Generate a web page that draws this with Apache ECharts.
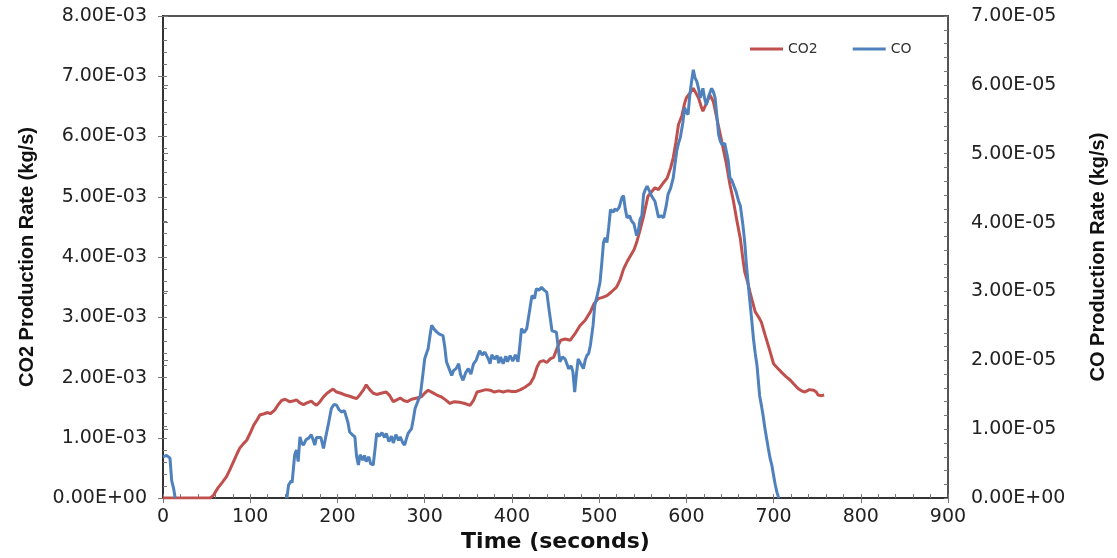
<!DOCTYPE html>
<html><head><meta charset="utf-8">
<script src="https://cdn.jsdelivr.net/npm/echarts@6/dist/echarts.min.js"></script>
<style>html,body{margin:0;padding:0;background:#fff}#c{width:1117px;height:558px}</style>
</head><body><div id="c"></div>
<script>
// Time (s) and CO2 production rate (x 1e-3 kg/s)
const co2Time = [0,20,40,54,58,63,68,73,77,81,85,88,92,96,100,104,108,111,116,120,123,128,132,136,140,145,149,153,157,161,165,170,173,176,180,184,188,192,195,199,204,209,214,218,222,226,230,233,237,241,245,250,256,260,264,268,272,276,280,285,291,296,300,304,309,314,319,324,329,334,340,346,352,356,360,365,370,375,380,385,390,395,400,405,410,415,421,425,429,432,436,440,444,448,453,456,461,467,472,478,484,490,494,499,504,509,514,520,524,528,532,536,540,543,547,551,556,560,564,568,573,578,582,585,588,591,595,598,600,604,608,611,614,617,619,623,627,631,635,639,643,646,650,654,658,662,665,667,670,673,676,679,683,686,690,694,697,700,705,709,714,719,724,728,732,736,741,746,749,751,755,758];
const co2ValuesE3 = [0,0,0,0,0.05,0.17,0.26,0.36,0.48,0.61,0.74,0.83,0.90,0.96,1.08,1.21,1.30,1.38,1.40,1.42,1.40,1.46,1.55,1.62,1.64,1.60,1.61,1.63,1.58,1.55,1.58,1.61,1.57,1.54,1.60,1.68,1.74,1.78,1.81,1.76,1.74,1.71,1.69,1.67,1.65,1.72,1.80,1.88,1.80,1.74,1.72,1.74,1.76,1.70,1.60,1.63,1.66,1.62,1.60,1.64,1.66,1.68,1.74,1.79,1.75,1.71,1.68,1.63,1.57,1.60,1.59,1.57,1.54,1.62,1.76,1.78,1.80,1.79,1.76,1.78,1.76,1.78,1.77,1.77,1.80,1.84,1.90,2.00,2.18,2.26,2.28,2.25,2.31,2.34,2.53,2.62,2.64,2.62,2.72,2.86,2.95,3.09,3.22,3.31,3.33,3.36,3.42,3.50,3.62,3.80,3.92,4.02,4.12,4.24,4.45,4.68,5.01,5.08,5.15,5.12,5.22,5.31,5.48,5.65,5.90,6.20,6.35,6.55,6.64,6.72,6.80,6.72,6.64,6.50,6.42,6.55,6.69,6.58,6.30,6.03,5.75,5.54,5.20,4.93,4.60,4.30,3.95,3.75,3.60,3.42,3.25,3.09,3.00,2.92,2.72,2.53,2.38,2.23,2.15,2.09,2.02,1.96,1.88,1.82,1.78,1.76,1.80,1.79,1.76,1.71,1.70,1.71];
// Time (s) and CO production rate (x 1e-5 kg/s); null = no data
const coTime = [0,4,8,10,12,14,78,142,144,147,148,151,153,155,157,159,161,164,167,170,172,174,176,178,181,184,186,188,190,193,196,199,202,205,208,210,212,214,217,220,222,224,226,229,231,233,236,238,241,243,245,248,251,254,256,259,262,264,267,270,272,275,277,279,281,283,285,287,289,292,295,298,300,302,304,306,308,311,314,317,321,323,325,328,331,333,336,339,341,344,347,350,353,356,359,363,366,369,371,373,375,377,380,383,385,387,390,393,395,398,401,404,407,409,411,414,417,420,423,426,428,431,434,437,440,443,446,448,451,453,455,458,461,463,465,468,470,472,474,476,479,482,484,486,488,490,493,495,498,501,503,505,507,509,511,513,516,518,520,523,526,528,530,532,535,537,540,543,545,547,549,551,553,555,558,560,562,564,566,568,571,574,577,579,582,585,587,589,591,593,596,598,600,602,604,606,608,610,612,614,616,618,619,621,623,626,629,631,633,635,637,639,641,644,646,648,650,652,654,657,660,662,665,667,669,671,673,675,677,679,681,684,686,688,690,692,694,696,698,700,702,704,706];
const coValuesE5 = [0.60,0.62,0.58,0.25,0.15,0,null,0,0.19,0.25,0.22,0.63,0.70,0.53,0.89,0.80,0.77,0.85,0.87,0.92,0.85,0.77,0.88,0.87,0.88,0.72,0.85,0.87,1.10,1.30,1.36,1.35,1.28,1.25,1.27,1.25,1.10,0.96,0.92,0.89,0.60,0.48,0.63,0.55,0.62,0.53,0.60,0.50,0.48,0.70,0.94,0.90,0.95,0.88,0.94,0.82,0.90,0.80,0.92,0.84,0.89,0.80,0.77,0.86,0.94,0.95,1.01,1.15,1.30,1.40,1.49,1.80,2.02,2.10,2.17,2.35,2.51,2.45,2.41,2.38,2.36,2.20,1.98,1.88,1.78,1.85,1.88,1.95,1.80,1.71,1.82,1.88,1.80,1.95,2.00,2.14,2.08,2.12,2.14,2.02,1.95,2.08,2.02,2.07,1.96,2.05,1.95,2.06,1.98,2.07,1.99,2.08,1.98,2.20,2.46,2.40,2.46,2.70,2.94,2.90,3.04,3.02,3.06,3.02,2.99,2.70,2.43,2.45,2.41,2.20,1.98,2.05,2.02,1.95,1.88,1.92,1.83,1.54,1.80,2.02,1.95,1.88,2.00,2.07,2.10,2.22,2.50,2.80,2.95,3.13,3.40,3.71,3.78,3.71,3.93,4.19,4.15,4.20,4.17,4.22,4.36,4.39,4.20,4.07,4.10,4.03,3.98,3.81,3.88,4.05,4.10,4.41,4.48,4.53,4.45,4.39,4.35,4.31,4.20,4.08,4.10,4.07,4.25,4.41,4.50,4.65,4.85,5.04,5.15,5.23,5.45,5.67,5.60,5.57,5.85,6.05,6.22,6.10,6.05,5.95,5.81,5.90,5.95,5.80,5.71,5.85,5.95,5.90,5.81,5.55,5.28,5.18,5.13,5.15,5.13,4.90,4.65,4.62,4.60,4.45,4.31,4.24,3.95,3.71,3.37,3.10,2.84,2.58,2.31,2.10,1.93,1.49,1.35,1.20,1.02,0.87,0.72,0.58,0.48,0.33,0.19,0.08,0];
const seriesNames = ['CO2', 'CO'];

const co2Data = co2Time.map((t, i) => [t, co2ValuesE3[i] * 1e-3]);
const coData = coTime.map((t, i) => [t, coValuesE5[i] === null ? '-' : coValuesE5[i] * 1e-5]);

function sci(v) {
  const s = Number(v).toExponential(2);
  const parts = s.split('e');
  const n = parseInt(parts[1], 10);
  return parts[0] + 'E' + (n < 0 ? '-' : '+') + String(Math.abs(n)).padStart(2, '0');
}

const tickFont = { fontFamily: 'DejaVu Sans', fontSize: 19, color: '#222' };
const axisLineStyle = { color: '#333', width: 2 };
const tickStyle = { color: '#777', width: 1 };

function overlayAxis(extra) {
  return Object.assign({
    axisLine: { show: false },
    axisLabel: { show: false },
    splitLine: { show: false },
    axisTick: { show: true, inside: true, length: 4, lineStyle: tickStyle },
    minorTick: { show: true, splitNumber: 5, length: 4, lineStyle: tickStyle }
  }, extra);
}

const chart = echarts.init(document.getElementById('c'));
chart.setOption({
  animation: false,
  backgroundColor: '#fff',
  grid: { left: 163, right: 169, top: 16, bottom: 58, show: true, borderColor: '#555', borderWidth: 2, backgroundColor: 'transparent' },
  legend: {
    data: seriesNames,
    left: 745, top: 37,
    icon: 'rect', itemWidth: 33, itemHeight: 3, itemGap: 35,
    textStyle: { fontFamily: 'DejaVu Sans', fontSize: 14, color: '#333' }
  },
  xAxis: [
    {
      type: 'value', min: 0, max: 900, interval: 100,
      name: 'Time (seconds)', nameLocation: 'middle', nameGap: 32,
      nameTextStyle: { fontFamily: 'DejaVu Sans', fontWeight: 'bold', fontSize: 22, color: '#111' },
      axisLine: { show: true, lineStyle: axisLineStyle },
      axisTick: { show: true, length: 5, lineStyle: tickStyle },
      axisLabel: Object.assign({ margin: 9 }, tickFont),
      splitLine: { show: false }
    },
    overlayAxis({ type: 'value', min: 0, max: 900, interval: 100, position: 'bottom' })
  ],
  yAxis: [
    {
      type: 'value', min: 0, max: 0.008, interval: 0.001, position: 'left',
      name: 'CO2 Production Rate (kg/s)', nameLocation: 'middle', nameGap: 126, nameRotate: 90,
      nameTextStyle: { fontFamily: 'Liberation Sans', fontWeight: 'bold', fontSize: 20, color: '#111' },
      axisLine: { show: true, lineStyle: axisLineStyle },
      axisTick: { show: true, length: 5, lineStyle: tickStyle },
      axisLabel: Object.assign({ margin: 16, formatter: sci }, tickFont),
      splitLine: { show: false }
    },
    {
      type: 'value', min: 0, max: 0.00007, interval: 0.00001, position: 'right',
      name: 'CO Production Rate (kg/s)', nameLocation: 'middle', nameGap: 140, nameRotate: 90,
      nameTextStyle: { fontFamily: 'Liberation Sans', fontWeight: 'bold', fontSize: 20, color: '#111' },
      axisLine: { show: true, lineStyle: axisLineStyle },
      axisTick: { show: true, length: 5, lineStyle: tickStyle },
      axisLabel: Object.assign({ margin: 23, formatter: sci }, tickFont),
      splitLine: { show: false }
    },
    overlayAxis({ type: 'value', min: 0, max: 0.008, interval: 0.001, position: 'left' }),
    overlayAxis({ type: 'value', min: 0, max: 0.00007, interval: 0.00001, position: 'right' })
  ],
  series: [
    {
      name: seriesNames[0], type: 'line', xAxisIndex: 0, yAxisIndex: 0,
      data: co2Data, showSymbol: false, symbol: 'none',
      lineStyle: { color: '#C0504D', width: 3 }, itemStyle: { color: '#C0504D' }
    },
    {
      name: seriesNames[1], type: 'line', xAxisIndex: 0, yAxisIndex: 1,
      data: coData, showSymbol: false, symbol: 'none', connectNulls: false,
      lineStyle: { color: '#4F81BD', width: 3 }, itemStyle: { color: '#4F81BD' }
    }
  ]
});
</script></body></html>
